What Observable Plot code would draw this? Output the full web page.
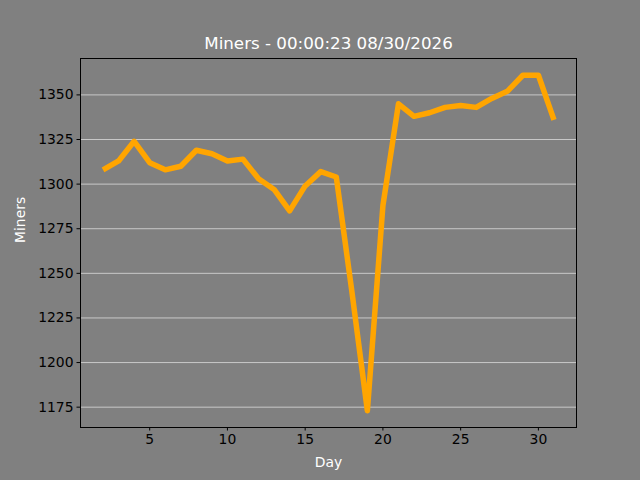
<!DOCTYPE html>
<html>
<head>
<meta charset="utf-8">
<script src="https://cdn.jsdelivr.net/npm/d3@7"></script>
<script src="https://cdn.jsdelivr.net/npm/@observablehq/plot@0.6"></script>
<style>
  html, body { margin: 0; padding: 0; background: #808080; }
  #chart { width: 640px; height: 480px; }
</style>
</head>
<body>
<div id="chart"></div>
<script>
const days = [2,3,4,5,6,7,8,9,10,11,12,13,14,15,16,17,18,19,20,21,22,23,24,25,26,27,28,29,30,31];
const miners = [1308,1313,1324,1312,1308,1310,1319,1317,1313,1314,1303,1297,1285,1299,1307,1304,1240,1173,1288,1345,1338,1340,1343,1344,1343,1348,1352,1361,1361,1336];
const xTicks = [5,10,15,20,25,30];
const yTicks = [1175,1200,1225,1250,1275,1300,1325,1350];
const titleText = "Miners - 00:00:23 08/30/2026";

const data = days.map((d, i) => ({day: d, miners: miners[i]}));

const chart = Plot.plot({
  width: 640,
  height: 480,
  marginLeft: 80,
  marginRight: 64,
  marginTop: 58,
  marginBottom: 53,
  style: {background: "#808080", fontFamily: "DejaVu Sans", fontSize: "13.9px", color: "black", overflow: "visible"},
  x: {domain: [0.55, 32.45], label: null},
  y: {domain: [1163.6, 1370.4], label: null},
  marks: [
    Plot.gridY(yTicks, {stroke: "#c8c8c8", strokeOpacity: 1, strokeWidth: 1}),
    Plot.line(data, {x: "day", y: "miners", stroke: "#FFA500", strokeWidth: 5.5, strokeLinejoin: "round", strokeLinecap: "butt"}),
    Plot.frame({stroke: "black", strokeWidth: 1}),
    Plot.axisX({ticks: xTicks, tickSize: 3.5, tickPadding: 3.5, tickFormat: d => String(d), fill: "black", stroke: "black", fontSize: 13.9, label: null}),
    Plot.axisY({ticks: yTicks, tickSize: 3.5, tickPadding: 3.5, tickFormat: d => String(d), fill: "black", stroke: "black", fontSize: 13.9, label: null}),
    Plot.text([titleText], {frameAnchor: "top", dy: -10, text: d => d, fill: "white", fontSize: 16.7, lineAnchor: "bottom"}),
    Plot.text(["Day"], {frameAnchor: "bottom", dy: 39, text: d => d, fill: "white", fontSize: 13.9, lineAnchor: "bottom"}),
    Plot.text(["Miners"], {frameAnchor: "left", dx: -60, rotate: -90, text: d => d, fill: "white", fontSize: 13.9})
  ]
});
document.getElementById("chart").appendChild(chart);
</script>
</body>
</html>
